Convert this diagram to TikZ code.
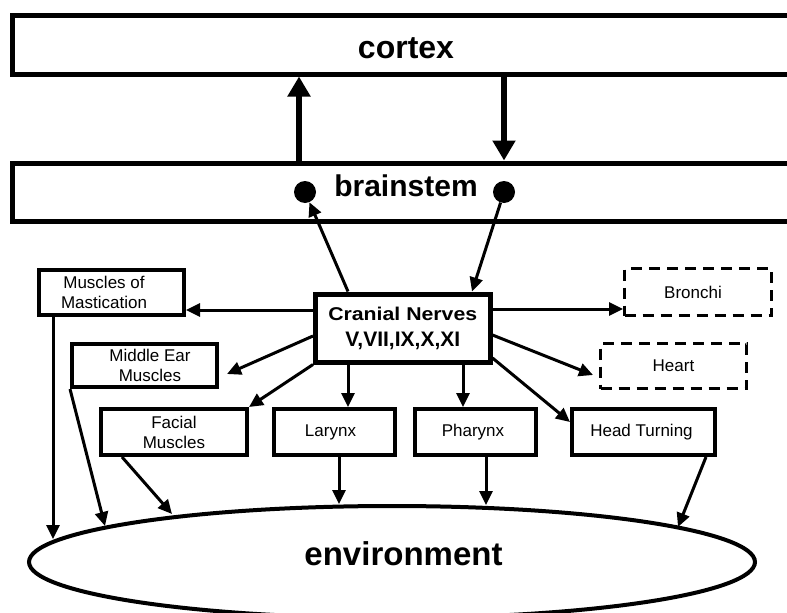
\documentclass[tikz,border=0pt]{standalone}
\usepackage{fontspec}
\setmainfont{Liberation Sans}
\newfontfamily\widefont{Liberation Sans}[FakeStretch=1.15]
\usetikzlibrary{arrows.meta,shapes.geometric}
\begin{document}
\begin{tikzpicture}[x=1pt,y=-1pt,
  bigbox/.style={draw, line width=5pt, rectangle, inner sep=0pt},
  box/.style={draw, line width=4pt, rectangle, inner sep=0pt, align=center, font=\fontsize{17}{20}\selectfont},
  dbox/.style={draw, line width=3pt, dash pattern=on 11pt off 7pt, rectangle, inner sep=0pt, align=center, font=\fontsize{17}{20}\selectfont},
  bigarr/.style={line width=5.5pt, -{Triangle[length=20pt,width=22pt]}},
  arr/.style={line width=3pt, -{Triangle[length=14pt,width=13pt]}},
  blob/.style={circle, fill=black, inner sep=0pt, minimum size=22pt},
]
\useasboundingbox (0,0) rectangle (787,613);
\fill[white] (0,0) rectangle (787,613);
\clip (0,0) rectangle (787,613);

\node[bigbox, minimum width=787pt, minimum height=58.5pt, text height=26.5pt, text depth=0pt,
      font=\bfseries\fontsize{32}{36}\selectfont] (cortex) at (406,44.75) {cortex};
\node[bigbox, minimum width=787pt, minimum height=58pt, text height=8pt, text depth=0pt,
      font=\bfseries\fontsize{30}{34}\selectfont] (brainstem) at (406,192) {brainstem};

\node[bigbox, minimum width=174.5pt, minimum height=68pt, align=center,
      font=\bfseries\fontsize{21}{26}\selectfont] (cn) at (402.75,328)
      {{\widefont\bfseries\fontsize{18.5}{26}\selectfont Cranial Nerves}\\V,VII,IX,X,XI};

\node[box, minimum width=145pt, minimum height=45pt] (mast) at (111.5,292.5)
      {Muscles of\hspace*{15pt}\\Mastication\hspace*{15pt}};
\node[box, minimum width=145pt, minimum height=43pt] (mid) at (144.5,365.5)
      {\hspace*{11pt}Middle Ear\\\hspace*{11pt}Muscles};
\node[box, minimum width=146pt, minimum height=46pt] (facial) at (174,432) {Facial\\Muscles};
\node[box, minimum width=121pt, minimum height=46pt] (larynx) at (334.5,432) {Larynx\hspace*{8pt}};
\node[box, minimum width=121pt, minimum height=46pt] (pharynx) at (475.5,432) {Pharynx\hspace*{5pt}};
\node[box, minimum width=143pt, minimum height=46pt] (head) at (643.5,432) {Head Turning\hspace*{4pt}};
\node[dbox, minimum width=147pt, minimum height=47pt] (bronchi) at (698,292) {Bronchi\hspace*{10pt}};
\node[dbox, minimum width=146pt, minimum height=45pt] (heart) at (673.5,366) {Heart};

\node[draw, ellipse, line width=4pt, inner sep=0pt, minimum width=726pt, minimum height=112pt,
      text height=6pt, text depth=0pt, font=\bfseries\fontsize{33}{36}\selectfont]
      (env) at (392,562) {\hspace*{23pt}environment};

\node[blob] (dotL) at (305,192) {};
\node[blob] (dotR) at (504,192) {};

% cortex <-> brainstem
\coordinate (ux) at (299,0);
\coordinate (dx) at (504,0);
\draw[bigarr] (brainstem.north -| ux) -- (cortex.south -| ux);
\draw[bigarr] (cortex.south -| dx) -- (brainstem.north -| dx);

% brainstem <-> cranial nerves
\coordinate (a1) at (348,0);
\coordinate (a2) at (472,0);
\draw[arr] (cn.north -| a1) -- (dotL);
\draw[arr] (dotR) -- (cn.north -| a2);

% cranial nerves -> targets
\coordinate (m1) at ([yshift=18pt]cn.west);
\draw[arr] (m1) -- (m1 -| mast.east);
\coordinate (b1) at ([yshift=19pt]cn.east);
\draw[arr] (b1) -- (b1 -| bronchi.west);
\draw[arr] ([yshift=-8pt]cn.west) -- ([xshift=8pt,yshift=-8.5pt]mid.east);
\draw[arr] (cn.south west) -- (facial.north east);
\coordinate (a3) at (348,0);
\coordinate (a4) at (463,0);
\draw[arr] (cn.south -| a3) -- (larynx.north -| a3);
\draw[arr] (cn.south -| a4) -- (pharynx.north -| a4);
\draw[arr] ([yshift=-7pt]cn.east) -- ([xshift=-6pt,yshift=-9pt]heart.west);
\draw[arr] ([yshift=-30pt]cn.east) -- ([yshift=-15pt]head.north west);

% targets -> environment
\coordinate (e1) at (53,539);
\draw[arr] (mast.south -| e1) -- (e1);
\coordinate (e2) at (105,526);
\draw[arr] (mid.south west) -- (e2);
\coordinate (e3) at (172,514);
\coordinate (f3) at (122,0);
\draw[arr] (facial.south -| f3) -- (e3);
\coordinate (e4) at (339,504);
\draw[arr] (larynx.south -| e4) -- (e4);
\coordinate (e5) at (486,505);
\draw[arr] (pharynx.south -| e5) -- (e5);
\coordinate (e6) at (678,527);
\coordinate (f6) at (706,0);
\draw[arr] (head.south -| f6) -- (e6);
\end{tikzpicture}
\end{document}
